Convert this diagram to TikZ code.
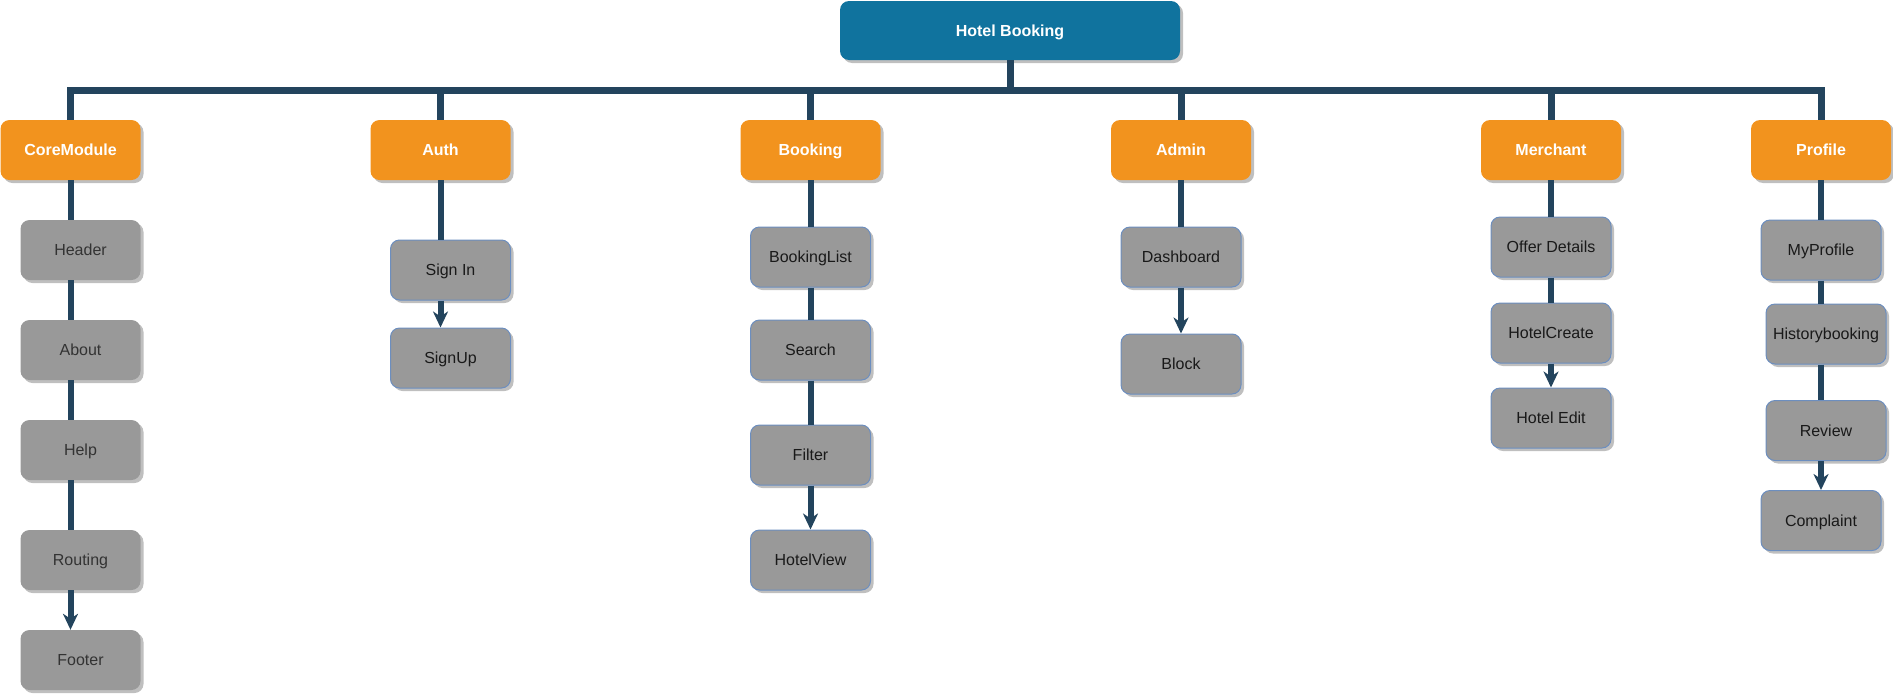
\documentclass[tikz,border=0pt]{standalone}
\usepackage{fontspec}
\setmainfont{Liberation Sans}
\usepackage{tikz}
\usetikzlibrary{shapes.geometric, arrows.meta, shadows}

\definecolor{rootblue}{HTML}{10739E}
\definecolor{modorange}{HTML}{F2931E}
\definecolor{leafgray}{HTML}{999999}
\definecolor{leafedge}{HTML}{6C8EBF}
\definecolor{linkblue}{HTML}{23445D}

\tikzstyle{root} = [rectangle, rounded corners=9pt, 
minimum width=340pt, 
minimum height=59pt, 
text centered, 
text height=11.5pt, text depth=0pt, 
fill=rootblue, text=white, 
font=\fontsize{16}{19}\selectfont\bfseries, 
drop shadow={shadow xshift=3pt, shadow yshift=-3pt, fill=black, opacity=0.25}]
\tikzstyle{module} = [rectangle, rounded corners=9pt, 
minimum width=140pt, 
minimum height=60pt, 
text centered, 
text height=11.5pt, text depth=0pt, 
fill=modorange, text=white, 
font=\fontsize{16}{19}\selectfont\bfseries, 
drop shadow={shadow xshift=3pt, shadow yshift=-3pt, fill=black, opacity=0.25}]
\tikzstyle{coreleaf} = [rectangle, rounded corners=9pt, 
minimum width=120pt, 
minimum height=60pt, 
inner sep=0pt, 
text centered, 
text height=11.5pt, text depth=0pt, 
fill=leafgray, text=black!80, 
font=\fontsize{16}{19}\selectfont, 
drop shadow={shadow xshift=3pt, shadow yshift=-3pt, fill=black, opacity=0.25}]
\tikzstyle{leaf} = [coreleaf, draw=leafedge, line width=1pt, text=black!90]
\tikzstyle{trunk} = [line width=7pt, draw=linkblue]
\tikzstyle{link} = [line width=6pt, draw=linkblue]
\tikzstyle{arrow} = [link, -{Stealth[length=16pt, width=15pt, inset=5pt]}]

\begin{document}
\begin{tikzpicture}[x=1pt, y=-1pt, node distance=100pt]
\useasboundingbox (0,0) rectangle (1893,694);

\node (root) [root] at (1010,30.5) {Hotel Booking};

\node (core) [module, below of=root, xshift=-939.5pt, yshift=-19.5pt] {CoreModule};
\node (auth) [module, below of=root, xshift=-569.5pt, yshift=-19.5pt] {Auth};
\node (booking) [module, below of=root, xshift=-199.5pt, yshift=-19.5pt] {Booking};
\node (admin) [module, below of=root, xshift=171pt, yshift=-19.5pt] {Admin};
\node (merchant) [module, below of=root, xshift=541pt, yshift=-19.5pt] {Merchant};
\node (profile) [module, below of=root, xshift=811pt, yshift=-19.5pt] {Profile};

% CoreModule
\node (header) [coreleaf, below of=core, xshift=10pt] {Header};
\node (about) [coreleaf, below of=header] {About};
\node (help) [coreleaf, below of=about] {Help};
\node (routing) [coreleaf, below of=help, yshift=-10pt] {Routing};
\node (footer) [coreleaf, below of=routing] {Footer};

% Auth
\node (signin) [leaf, below of=auth, xshift=10pt, yshift=-20pt] {Sign In};
\node (signup) [leaf, below of=signin, yshift=12pt] {SignUp};

% Booking
\node (blist) [leaf, below of=booking, yshift=-7pt] {BookingList};
\node (search) [leaf, below of=blist, yshift=7pt] {Search};
\node (filter) [leaf, below of=search, yshift=-5pt] {Filter};
\node (hview) [leaf, below of=filter, yshift=-5pt] {HotelView};

% Admin
\node (dash) [leaf, below of=admin, yshift=-7pt] {Dashboard};
\node (block) [leaf, below of=dash, yshift=-7pt] {Block};

% Merchant
\node (offer) [leaf, below of=merchant, yshift=3pt] {Offer Details};
\node (hcreate) [leaf, below of=offer, yshift=14pt] {HotelCreate};
\node (hedit) [leaf, below of=hcreate, yshift=15pt] {Hotel Edit};

% Profile
\node (myprof) [leaf, below of=profile] {MyProfile};
\node (hist) [leaf, below of=myprof, xshift=5pt, yshift=16pt] {Historybooking};
\node (review) [leaf, below of=hist, yshift=3.5pt] {Review};
\node (complaint) [leaf, below of=review, xshift=-5pt, yshift=10pt] {Complaint};

% tree
\draw [trunk] (root.south) -- ++(0,30) -| (core.north);
\draw [trunk] (root.south) -- ++(0,30) -| (auth.north);
\draw [trunk] (root.south) -- ++(0,30) -| (booking.north);
\draw [trunk] (root.south) -- ++(0,30) -| (admin.north);
\draw [trunk] (root.south) -- ++(0,30) -| (merchant.north);
\draw [trunk] (root.south) -- ++(0,30) -| (profile.north);

\draw [link] (core) -- (core |- header.north);
\draw [link] (header.south -| core) -- (about.north -| core);
\draw [link] (about.south -| core) -- (help.north -| core);
\draw [link] (help.south -| core) -- (routing.north -| core);
\draw [arrow] (routing.south -| core) -- (footer.north -| core);

\draw [link] (auth) -- (auth |- signin.north);
\draw [arrow] (signin.south -| auth) -- (signup.north -| auth);

\draw [link] (booking) -- (blist);
\draw [link] (blist) -- (search);
\draw [link] (search) -- (filter);
\draw [arrow] (filter) -- (hview);

\draw [link] (admin) -- (dash);
\draw [arrow] (dash) -- (block);

\draw [link] (merchant) -- (offer);
\draw [link] (offer) -- (hcreate);
\draw [arrow] (hcreate) -- (hedit);

\draw [link] (profile) -- (profile |- myprof.north);
\draw [link] (myprof.south -| profile) -- (hist.north -| profile);
\draw [link] (hist.south -| profile) -- (review.north -| profile);
\draw [arrow] (review.south -| profile) -- (complaint.north -| profile);

\end{tikzpicture}
\end{document}
